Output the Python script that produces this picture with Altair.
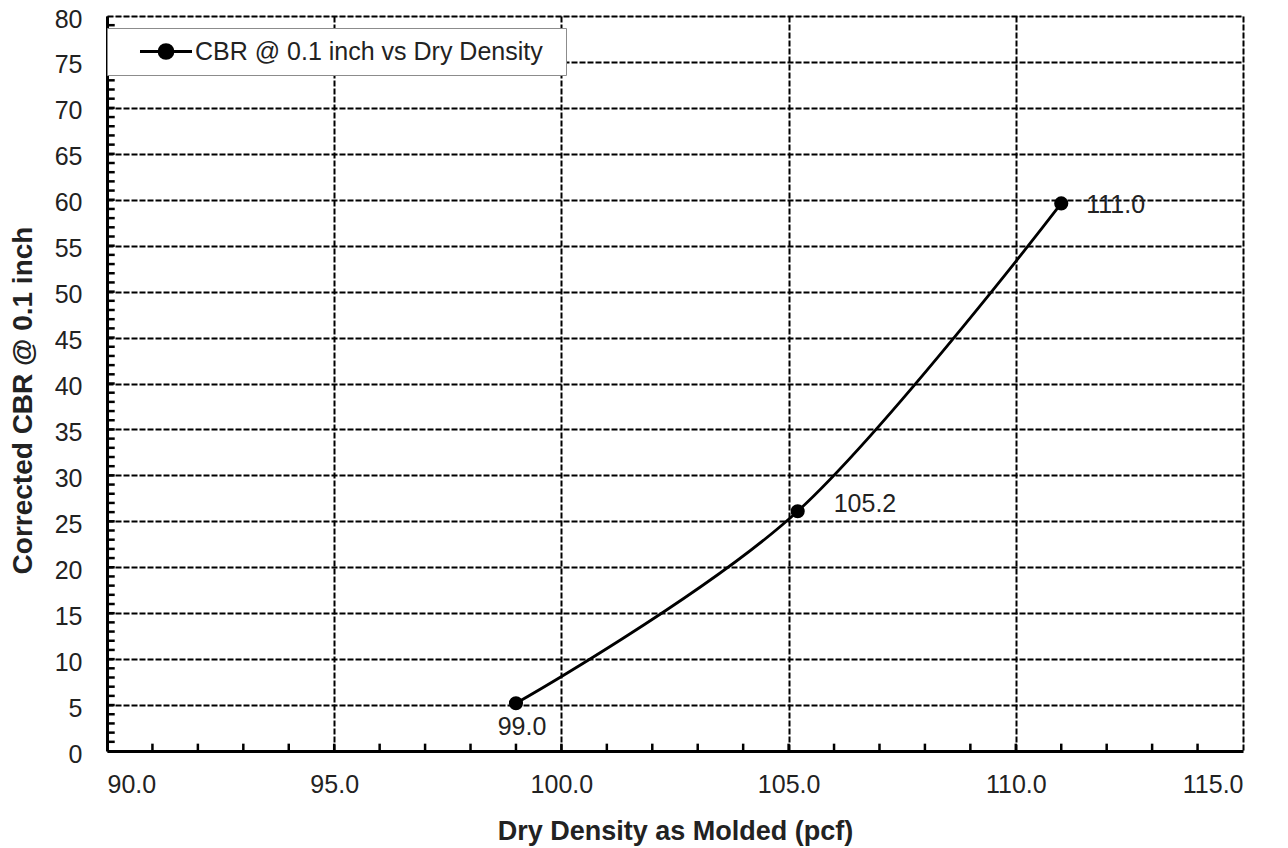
import altair as alt
import pandas as pd

# Data
density = [99.0, 105.2, 111.0]
cbr = [5.2, 26.1, 59.6]
series_name = "CBR @ 0.1 inch vs Dry Density"

x_ticks = [90, 95, 100, 105, 110, 115]
y_ticks = list(range(0, 85, 5))
minor_x = list(range(91, 115))
minor_y = list(range(1, 80))

df = pd.DataFrame({"density": density, "cbr": cbr, "series": [series_name] * len(density)})
mx = pd.DataFrame({"mx": minor_x})
my = pd.DataFrame({"my": minor_y})

FONT = "Liberation Sans"
TXT = "#222222"

xscale = alt.Scale(domain=[90, 115], nice=False, zero=False)
yscale = alt.Scale(domain=[0, 80], nice=False)

xaxis = alt.Axis(
    values=x_ticks, format=".1f", title="Dry Density as Molded (pcf)",
    grid=True, gridColor="black", gridDash=[6, 2], gridWidth=2,
    tickSize=0, labelPadding=33, labelBaseline="middle",
    labelFontSize=25, labelColor=TXT, labelFont=FONT,
    titleFontSize=27, titleFont=FONT, titleFontWeight="bold", titleColor=TXT,
    titleY=80, titleBaseline="middle",
    domainColor="black", domainWidth=3,
)
yaxis = alt.Axis(
    values=y_ticks, title="Corrected CBR @ 0.1 inch",
    grid=True, gridColor="black", gridDash=[6, 2], gridWidth=2,
    tickSize=0, labelPadding=25, labelOffset=3,
    labelFontSize=25, labelColor=TXT, labelFont=FONT,
    titleFontSize=28, titleFont=FONT, titleFontWeight="bold", titleColor=TXT,
    titleX=-84, titleY=384, titleBaseline="middle", titleAngle=270,
    domainColor="black", domainWidth=3,
)

base = alt.Chart(df)

# legend glyph: short line with a dot, drawn to the right of the symbol column
legend_symbol = "M0.79,0H5.125M2.38,0A0.58,0.58 0 1,0 3.54,0A0.58,0.58 0 1,0 2.38,0Z"

line = base.mark_line(color="black", strokeWidth=2.8, interpolate="cardinal", tension=0).encode(
    x=alt.X("density:Q", scale=xscale, axis=xaxis),
    y=alt.Y("cbr:Q", scale=yscale, axis=yaxis),
    color=alt.Color(
        "series:N",
        scale=alt.Scale(range=["black"]),
        legend=alt.Legend(
            title=None, orient="none", legendX=0, legendY=12,
            fillColor="white", strokeColor="#8c8c8c", padding=10,
            labelFontSize=25, labelFont=FONT, labelColor=TXT, labelOffset=51,
            labelLimit=800,
            labelExpr="datum.label + '\u2002\u200b'",
            symbolType=legend_symbol, symbolSize=576,
            symbolStrokeWidth=2.8, symbolFillColor="black", symbolStrokeColor="black",
        ),
    ),
)

points = base.mark_point(filled=True, color="black", size=200, opacity=1, shape="circle").encode(
    x="density:Q", y="cbr:Q"
)

lbl_below = base.transform_filter("datum.density < 100").mark_text(
    fontSize=25, font=FONT, color=TXT, align="center", baseline="middle", dx=6, dy=24
).encode(x="density:Q", y="cbr:Q", text=alt.Text("density:Q", format=".1f"))

lbl_mid = base.transform_filter("datum.density > 100 && datum.density < 110").mark_text(
    fontSize=25, font=FONT, color=TXT, align="left", baseline="middle", dx=36, dy=-7
).encode(x="density:Q", y="cbr:Q", text=alt.Text("density:Q", format=".1f"))

lbl_top = base.transform_filter("datum.density > 110").mark_text(
    fontSize=25, font=FONT, color=TXT, align="left", baseline="middle", dx=25, dy=2
).encode(x="density:Q", y="cbr:Q", text=alt.Text("density:Q", format=".1f"))

minor_x_ticks = alt.Chart(mx).mark_rule(color="black", strokeWidth=2.5).encode(
    x="mx:Q", y=alt.datum(0), y2=alt.datum(0.8)
)
minor_y_ticks = alt.Chart(my).mark_rule(color="black", strokeWidth=2.5).encode(
    y="my:Q", x=alt.datum(90), x2=alt.datum(90.17)
)

chart = alt.layer(
    minor_x_ticks, minor_y_ticks, line, points, lbl_below, lbl_mid, lbl_top
).properties(
    width=1136, height=735,
    autosize=alt.AutoSizeParams(type="none"),
    padding={"left": 99, "top": 8, "right": 28, "bottom": 97},
).configure_view(
    stroke="black", strokeWidth=3
).configure(background="white")

chart.save("out.html", embed_options={"renderer": "svg", "actions": False})
